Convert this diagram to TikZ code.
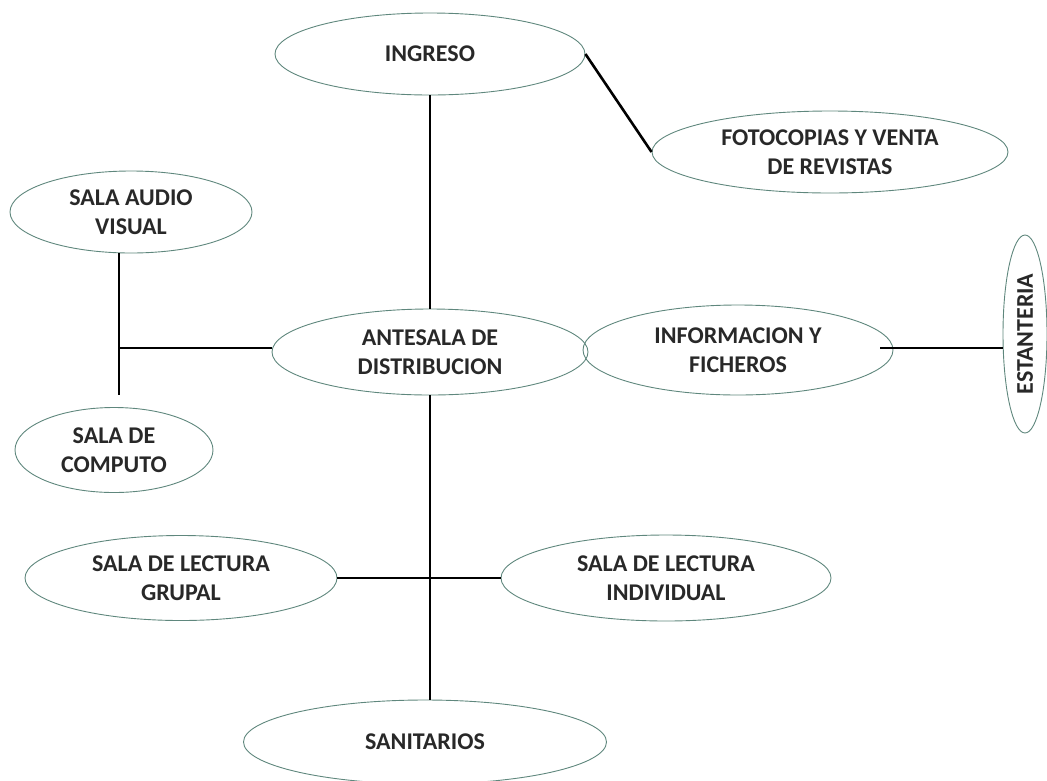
\documentclass[tikz,border=0pt]{standalone}
\usepackage{fontspec}
\setmainfont{Carlito}
\usetikzlibrary{shapes.geometric}

\definecolor{borde}{RGB}{95,135,125}
\definecolor{texto}{RGB}{40,40,40}

\begin{document}
\begin{tikzpicture}[x=1pt,y=-1pt,
        zona/.style={ellipse, draw=borde, line width=0.9pt, inner sep=0pt,
            align=center, text=texto, font=\fontsize{24}{29}\selectfont\bfseries},
        enlace/.style={line width=2.6pt, black}]
        \useasboundingbox (0,0) rectangle (1047,780);

        % ambientes
        \node[zona, minimum width=310, minimum height=82] (ingreso) at (430,54) {INGRESO};
        \node[zona, minimum width=356, minimum height=82] (fotocopias) at (830,152) {FOTOCOPIAS Y VENTA\\DE REVISTAS};
        \node[zona, minimum width=242, minimum height=82] (audio) at (131,212) {SALA AUDIO\\VISUAL};
        \node[zona, minimum width=198, minimum height=85] (computo) at (114,450) {SALA DE\\COMPUTO};
        \node[zona, minimum width=316, minimum height=86] (antesala) at (430,352) {ANTESALA DE\\DISTRIBUCION};
        \node[zona, minimum width=310, minimum height=90] (informacion) at (738,350) {INFORMACION Y\\FICHEROS};
        \node[zona, minimum width=44, minimum height=198] (estanteria) at (1025,334) {};
        \node[rotate=90, text=texto, font=\fontsize{24}{29}\selectfont\bfseries] (estanteriatxt) at (estanteria) {ESTANTERIA};
        \node[zona, minimum width=312, minimum height=85] (grupal) at (181,578) {SALA DE LECTURA\\GRUPAL};
        \node[zona, minimum width=330, minimum height=86] (individual) at (666,578) {SALA DE LECTURA\\INDIVIDUAL};
        \node[zona, minimum width=363, minimum height=84] (sanitarios) at (425,742) {SANITARIOS};

        % puntos de union
        \coordinate (uizq) at (119,348);
        \coordinate (fincomp) at (119,395);
        \coordinate (uder) at (880,348);

        % conexiones
        \draw[enlace] (ingreso.south) -- (antesala.north);
        \draw[enlace] (ingreso.east) -- (fotocopias.west);
        \draw[enlace] (fincomp |- audio.south) -- (fincomp);
        \draw[enlace] (uizq) -- (uizq -| antesala.west);
        \draw[enlace] (antesala.south) -- (antesala.south |- sanitarios.north);
        \draw[enlace] (grupal.east) -- (individual.west);
        \draw[enlace] (uder) -- (uder -| estanteria.west);

    \end{tikzpicture}
\end{document}
